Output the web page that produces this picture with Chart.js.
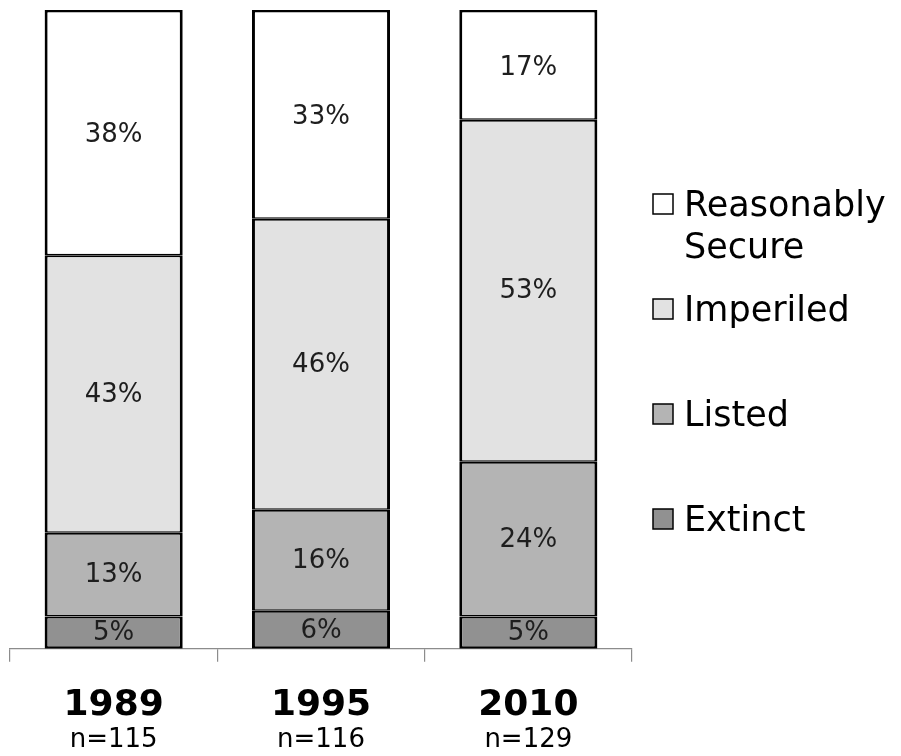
<!DOCTYPE html>
<html><head><meta charset="utf-8">
<script src="https://cdn.jsdelivr.net/npm/chart.js@4"></script>
<style>html,body{margin:0;padding:0;background:#fff}#wrap{width:901px;height:756px}</style>
</head><body><div id="wrap"><canvas id="c" width="901" height="756"></canvas></div>
<script>
// Conservation status shares per assessment year (percent)
const years = ['1989', '1995', '2010'];
const sampleSizes = ['n=115', 'n=116', 'n=129'];
const seriesNames = ['Extinct', 'Listed', 'Imperiled', 'Reasonably Secure'];
const extinct = [5, 6, 5];
const listed = [13, 16, 24];
const imperiled = [43, 46, 53];
const secure = [38, 33, 17];
const seriesColors = ['#919191', '#b4b4b4', '#e2e2e2', '#ffffff'];

const FONT = "'DejaVu Sans', Verdana, sans-serif";
const raw = [extinct, listed, imperiled, secure];
// each bar is shown as a 100% stack of its rounded percentages
const totals = years.map((_, i) => raw.reduce((s, arr) => s + arr[i], 0));
const last = raw.length - 1;

const datasets = raw.map((arr, k) => ({
  label: seriesNames[k],
  raw: arr,
  data: arr.map((v, i) => v / totals[i] * 100),
  backgroundColor: seriesColors[k],
  borderColor: '#000',
  // shared edges get part of the line from each neighbour
  borderWidth: { left: 3, right: 3, top: k === last ? 2.5 : 2, bottom: k === 0 ? 2.5 : 1.5 },
  borderSkipped: false,
  inflateAmount: 0,
  categoryPercentage: 1,
  barPercentage: 0.666
}));

// value labels centred in each segment
const valueLabels = {
  id: 'valueLabels',
  afterDatasetsDraw(chart) {
    const ctx = chart.ctx;
    ctx.save();
    ctx.font = '26px ' + FONT;
    ctx.fillStyle = '#1e1e1e';
    ctx.textAlign = 'center';
    ctx.textBaseline = 'middle';
    chart.data.datasets.forEach((ds, k) => {
      chart.getDatasetMeta(k).data.forEach((el, i) => {
        const p = el.getCenterPoint();
        ctx.fillText(ds.raw[i] + '%', p.x, p.y + (k === last ? 3 : 1));
      });
    });
    ctx.restore();
  }
};

// sample size line under each year label
const sampleLabels = {
  id: 'sampleLabels',
  afterDraw(chart) {
    const ctx = chart.ctx;
    const xs = chart.scales.x;
    ctx.save();
    ctx.font = '26px ' + FONT;
    ctx.fillStyle = '#000';
    ctx.textAlign = 'center';
    ctx.textBaseline = 'middle';
    sampleSizes.forEach((t, i) => ctx.fillText(t, xs.getPixelForValue(i), xs.bottom - 9));
    ctx.restore();
  }
};

// legend to the right, top item first, long names wrapped
const sideLegend = {
  id: 'sideLegend',
  afterDraw(chart) {
    const ctx = chart.ctx;
    const area = chart.chartArea;
    const boxX = area.right + 21, textX = area.right + 52;
    const maxW = chart.width - textX - 2;
    let y = 206;
    ctx.save();
    ctx.font = '35px ' + FONT;
    ctx.textBaseline = 'middle';
    const items = chart.data.datasets.slice().reverse();
    items.forEach(ds => {
      const words = ds.label.split(' ');
      const lines = [];
      let cur = '';
      words.forEach(w => {
        const t = cur ? cur + ' ' + w : w;
        if (cur && ctx.measureText(t).width > maxW) { lines.push(cur); cur = w; } else cur = t;
      });
      lines.push(cur);
      ctx.fillStyle = ds.backgroundColor;
      ctx.fillRect(boxX, y - 12, 20, 20);
      ctx.strokeStyle = '#000';
      ctx.lineWidth = 1.5;
      ctx.strokeRect(boxX, y - 12, 20, 20);
      ctx.fillStyle = '#000';
      lines.forEach((ln, j) => ctx.fillText(ln, textX, y + 1 + j * 42));
      y += 105;
    });
    ctx.restore();
  }
};

new Chart(document.getElementById('c'), {
  type: 'bar',
  data: { labels: years, datasets },
  options: {
    responsive: false,
    animation: false,
    devicePixelRatio: 1,
    layout: { padding: { left: 10, top: 10, right: 269, bottom: 7 } },
    plugins: { legend: { display: false }, tooltip: { enabled: false } },
    scales: {
      x: {
        stacked: true,
        offset: true,
        grid: { offset: true, drawOnChartArea: false, tickLength: 13, color: '#8c8c8c', lineWidth: 1.2 },
        border: { color: '#8c8c8c', width: 1.2 },
        ticks: { color: '#000', padding: 22, font: { family: FONT, size: 36, weight: 'bold' } }
      },
      y: { stacked: true, min: 0, max: 100, display: false }
    }
  },
  plugins: [valueLabels, sampleLabels, sideLegend]
});
</script>
</body></html>
